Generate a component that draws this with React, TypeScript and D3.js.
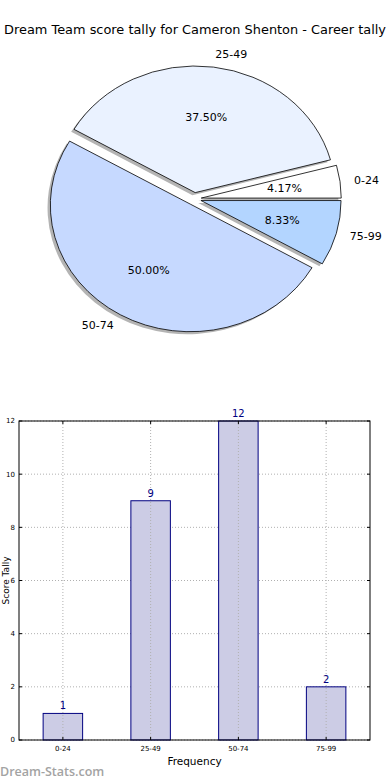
import React, { useEffect, useRef } from 'react'
import * as d3 from 'd3'

const title = 'Dream Team score tally for Cameron Shenton - Career tally'
const categories = ['0-24', '25-49', '50-74', '75-99']
const counts = [1, 9, 12, 2]
const pieColors = ['#ffffff', '#eaf2ff', '#c6d9ff', '#b3d5ff']
const explode = [0.05, 0.05, 0.05, 0.05]
const yTicks = [0, 2, 4, 6, 8, 10, 12]

export default function App() {
  const ref = useRef<SVGSVGElement | null>(null)

  useEffect(() => {
    const svg = d3.select(ref.current!)
    svg.selectAll('*').remove()
    const font = 'DejaVu Sans, sans-serif'

    svg.append('rect').attr('width', 390).attr('height', 780).attr('fill', '#fff')
    svg.append('text').attr('x', 195).attr('y', 34).attr('text-anchor', 'middle')
      .attr('font-size', 12.9).attr('font-family', font).text(title)

    // pie (matplotlib-style, stretched to an ellipse)
    const cx = 194.3, cy = 198.9, rx = 140, ry = 126.6
    const total = d3.sum(counts)
    const arcs = d3.pie<number>().sort(null).startAngle(Math.PI / 2).endAngle(Math.PI / 2 - 2 * Math.PI)(counts)
    const arc = d3.arc<any>().innerRadius(0).outerRadius(1)
    const pie = svg.append('g')
    const pos = (a: number, r: number, i: number) => {
      const ex = explode[i]
      return [cx + Math.sin(a) * rx * (r + ex), cy - Math.cos(a) * ry * (r + ex)]
    }
    arcs.forEach((d, i) => {
      const mid = (d.startAngle + d.endAngle) / 2
      const ox = Math.sin(mid) * rx * explode[i] - 0.02 * rx
      const oy = -Math.cos(mid) * ry * explode[i] + 0.02 * ry
      pie.append('path').attr('d', arc(d)!)
        .attr('transform', `translate(${cx + ox},${cy + oy}) scale(${rx},${ry})`)
        .attr('fill', '#444').attr('opacity', 0.4)
    })
    arcs.forEach((d, i) => {
      const mid = (d.startAngle + d.endAngle) / 2
      const ox = Math.sin(mid) * rx * explode[i]
      const oy = -Math.cos(mid) * ry * explode[i]
      pie.append('path').attr('d', arc(d)!)
        .attr('transform', `translate(${cx + ox},${cy + oy}) scale(${rx},${ry})`)
        .attr('fill', pieColors[i]).attr('stroke', '#000').attr('stroke-width', 0.8)
        .attr('vector-effect', 'non-scaling-stroke')
    })
    arcs.forEach((d, i) => {
      const mid = (d.startAngle + d.endAngle) / 2
      const [lx, ly] = pos(mid, 1.1, i)
      pie.append('text').attr('x', lx).attr('y', ly).attr('dy', '0.35em')
        .attr('text-anchor', Math.sin(mid) > 0 ? 'start' : 'end')
        .attr('font-size', 11).attr('font-family', font).text(categories[i])
      const [px, py] = pos(mid, 0.6, i)
      pie.append('text').attr('x', px).attr('y', py).attr('dy', '0.35em')
        .attr('text-anchor', 'middle')
        .attr('font-size', 11).attr('font-family', font)
        .text(`${(counts[i] / total * 100).toFixed(2)}%`)
    })

    // bar chart
    const left = 19, right = 370, top = 421, bottom = 740
    const x = d3.scaleLinear().domain([-0.5, 3.5]).range([left, right])
    const y = d3.scaleLinear().domain([0, 12]).range([bottom, top])
    const g = svg.append('g')
    const bw = 0.45

    yTicks.forEach(t => {
      g.append('line').attr('x1', left).attr('x2', right).attr('y1', y(t)).attr('y2', y(t))
        .attr('stroke', '#b0b0b0').attr('stroke-dasharray', '1,2').attr('stroke-width', 1)
      g.append('text').attr('x', left - 4).attr('y', y(t)).attr('dy', '0.35em').attr('text-anchor', 'end')
        .attr('font-size', 7).attr('font-family', font).text(t)
      g.append('line').attr('x1', left).attr('x2', left + 3).attr('y1', y(t)).attr('y2', y(t)).attr('stroke', '#000')
      g.append('line').attr('x1', right - 3).attr('x2', right).attr('y1', y(t)).attr('y2', y(t)).attr('stroke', '#000')
    })
    categories.forEach((c, i) => {
      g.append('text').attr('x', x(i)).attr('y', bottom + 11).attr('text-anchor', 'middle')
        .attr('font-size', 7).attr('font-family', font).text(c)
    })

    g.selectAll('rect.bar').data(counts).enter().append('rect').attr('class', 'bar')
      .attr('x', (d, i) => x(i - bw / 2)).attr('width', x(bw) - x(0))
      .attr('y', d => y(d)).attr('height', d => y(0) - y(d))
      .attr('fill', '#ccccE5').attr('stroke', '#000080').attr('stroke-width', 1)

    categories.forEach((c, i) => {
      g.append('line').attr('x1', x(i)).attr('x2', x(i)).attr('y1', top).attr('y2', bottom)
        .attr('stroke', '#b0b0b0').attr('stroke-dasharray', '1,2').attr('stroke-width', 1)
      g.append('line').attr('x1', x(i)).attr('x2', x(i)).attr('y1', bottom).attr('y2', bottom - 3).attr('stroke', '#000')
      g.append('line').attr('x1', x(i)).attr('x2', x(i)).attr('y1', top).attr('y2', top + 3).attr('stroke', '#000')
    })

    g.selectAll('text.val').data(counts).enter().append('text').attr('class', 'val')
      .attr('x', (d, i) => x(i)).attr('y', d => y(d) - 4).attr('text-anchor', 'middle')
      .attr('fill', '#000080').attr('font-size', 10).attr('font-family', font).text(d => d)

    g.append('rect').attr('x', left).attr('y', top).attr('width', right - left).attr('height', bottom - top)
      .attr('fill', 'none').attr('stroke', '#000').attr('stroke-width', 1)

    g.append('text').attr('x', (left + right) / 2).attr('y', 765).attr('text-anchor', 'middle')
      .attr('font-size', 10.5).attr('font-family', font).text('Frequency')
    g.append('text').attr('transform', `translate(9,${(top + bottom) / 2}) rotate(-90)`)
      .attr('text-anchor', 'middle').attr('font-size', 9).attr('font-family', font).text('Score Tally')

    svg.append('text').attr('x', 0).attr('y', 776).attr('font-size', 12.5).attr('font-weight', 600)
      .attr('font-family', 'Open Sans, sans-serif').attr('fill', '#a3a3a3').text('Dream-Stats.com')
  }, [])

  return <svg ref={ref} width={390} height={780} style={{ position: 'absolute', left: 0, top: 0 }} />
}
